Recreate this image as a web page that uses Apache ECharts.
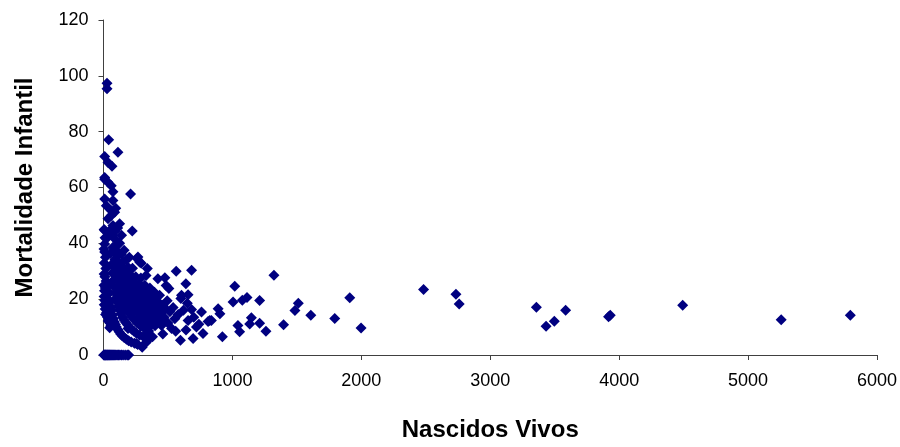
<!DOCTYPE html>
<html>
<head>
<meta charset="utf-8">
<script src="https://cdn.jsdelivr.net/npm/echarts@6.0.0/dist/echarts.min.js"></script>
<style>
html, body { margin: 0; padding: 0; background: #fff; }
#main { width: 900px; height: 447px; }
</style>
</head>
<body>
<div id="main"></div>
<script>
// municipios com mortalidade zero
var zeroNascidos = [2, 6, 10, 14, 18, 22, 27, 31, 36, 41, 46, 51, 57, 63, 69, 75, 82, 89, 97, 106, 116, 127, 139, 152, 168, 184, 195];

// nascidos vivos x mortalidade infantil (demais municipios)
var nascidos = [
	27, 27, 40, 112, 9, 35, 66, 9, 9, 35, 60, 73, 210, 9, 73, 22, 60, 87, 35, 125, 73, 223, 9, 48, 22, 87, 9, 73, 9, 112,
	267, 293, 190, 280, 190, 422, 215, 486, 280, 293, 435, 460, 447, 370, 357, 254, 190,
	5, 12, 4, 15, 6, 18, 5, 11, 20, 4, 14, 8, 25, 5, 17, 10, 28, 6, 20, 13, 33, 24, 38, 30, 44, 36, 50, 16, 58, 48,
	40, 45, 52, 58, 63, 70, 77, 85, 92, 100, 110, 121, 133, 145, 160, 178, 195, 215, 240, 265,
	45, 55, 62, 68, 75, 82, 90, 98, 105, 115, 124, 135, 148, 160, 172, 186, 200, 218, 236, 255, 280, 310,
	60, 70, 80, 88, 96, 104, 113, 122, 130, 140, 152, 165, 178, 192, 206, 222, 240, 262, 290, 320, 350,
	78, 90, 102, 112, 121, 130, 142, 155, 168, 180, 195, 210, 228, 246, 265, 288, 312, 340, 372,
	95, 110, 125, 138, 150, 162, 175, 190, 205, 222, 240, 260, 282, 305, 330, 360, 395,
	140, 160, 176, 192, 210, 230, 252, 275, 300, 325, 352, 385, 420,
	200, 225, 250, 275, 300, 330, 362, 395, 430,
	260, 290, 320, 350, 380, 410, 445, 480, 308, 330, 360, 395, 340,
	476, 507, 564, 683, 639, 656, 605, 600, 494, 437, 683, 760, 889, 1005, 1018, 515, 553, 656, 824, 721,
	772, 597, 695, 922, 528, 450, 1043, 837, 811, 903,
	380, 340, 400, 430, 470, 500, 540, 580, 620, 560, 640, 700, 740, 650, 460, 380, 330, 300,
	1077, 1113, 1056, 1147, 1134, 1211, 1211, 1260, 1322, 1397, 1485, 1511, 1608, 1794, 1910, 1998,
	2483, 2734, 2759, 3358, 3433, 3497, 3585, 3918, 3931, 4493, 5257, 5793
];
var mortalidade = [
	97.3, 95.4, 77.1, 72.6, 71.1, 69.0, 67.6, 63.6, 63.0, 61.9, 60.6, 58.5, 57.7, 55.9, 55.3, 53.5, 51.7, 51.1, 48.8, 47.0, 46.4, 44.4, 44.6, 43.4, 41.6, 41.6, 39.8, 38.6, 36.9, 36.9,
	35.1, 32.9, 31.1, 33.3, 30.3, 27.3, 27.3, 24.9, 23.8, 20.2, 21.4, 17.8, 14.8, 13.0, 5.9, 4.1, 9.5,
	45, 42, 38, 35, 33, 31, 29, 28, 26.5, 25, 24, 23, 22.5, 21, 20.5, 19.5, 19, 18, 17.5, 16.5, 16, 15.2, 14.2, 13.6, 12.8, 12.2, 11.5, 14.5, 10.6, 9.8,
	25.0, 22.2, 19.2, 17.2, 15.9, 14.3, 13.0, 11.8, 10.9, 10.0, 9.1, 8.3, 7.5, 6.9, 6.3, 5.6, 5.1, 4.7, 4.2, 3.8,
	44.4, 36.4, 32.3, 29.4, 26.7, 24.4, 22.2, 20.4, 19.0, 17.4, 16.1, 14.8, 13.5, 12.5, 11.6, 10.8, 10.0, 9.2, 8.5, 7.8, 7.1, 6.5,
	50.0, 42.9, 37.5, 34.1, 31.3, 28.8, 26.5, 24.6, 23.1, 21.4, 19.7, 18.2, 16.9, 15.6, 14.6, 13.5, 12.5, 11.5, 10.3, 9.4, 8.6,
	51.3, 44.4, 39.2, 35.7, 33.1, 30.8, 28.2, 25.8, 23.8, 22.2, 20.5, 19.0, 17.5, 16.3, 15.1, 13.9, 12.8, 11.8, 10.8,
	52.6, 45.5, 40.0, 36.2, 33.3, 30.9, 28.6, 26.3, 24.4, 22.5, 20.8, 19.2, 17.7, 16.4, 15.2, 13.9, 12.7,
	42.9, 37.5, 34.1, 31.3, 28.6, 26.1, 23.8, 21.8, 20.0, 18.5, 17.0, 15.6, 14.3,
	35.0, 31.1, 28.0, 25.5, 23.3, 21.2, 19.3, 17.7, 16.3,
	34.6, 27.6, 25.0, 22.9, 21.1, 19.5, 18.0, 16.7, 23.8, 28.5, 24.0, 22.5, 31.0,
	27.7, 23.8, 30.0, 30.4, 25.5, 21.6, 21.4, 20.2, 19.4, 17.8, 16.3, 15.4, 16.6, 19.0, 24.6, 15.5, 13.0, 12.4, 12.4, 10.0,
	7.7, 5.3, 5.9, 6.5, 9.5, 10.6, 10.6, 12.4, 12.0, 14.8,
	15.0, 8.0, 10.5, 12.0, 13.5, 11.5, 17.0, 14.5, 16.0, 8.5, 9.0, 13.5, 11.0, 18.5, 7.5, 6.5, 4.5, 2.8,
	19.6, 20.6, 8.3, 13.3, 11.1, 19.5, 11.4, 8.5, 28.6, 10.8, 15.9, 18.5, 14.2, 13.1, 20.5, 9.7,
	23.5, 21.8, 18.3, 17.1, 10.3, 12.1, 16.0, 13.7, 14.2, 17.8, 12.6, 14.2
];

var pontos = [];
for (var i = 0; i < zeroNascidos.length; i++) {
	pontos.push([zeroNascidos[i], 0]);
}
for (var j = 0; j < nascidos.length; j++) {
	pontos.push([nascidos[j], mortalidade[j]]);
}

var myChart = echarts.init(document.getElementById('main'));
var eixoCor = '#404040';
var option = {
	animation : false,
	backgroundColor : '#ffffff',
	grid : {
		left : 103.5,
		right : 21,
		top : 20,
		bottom : 90.5
	},
	xAxis : {
		type : 'value',
		min : 0,
		max : 6000,
		interval : 1000,
		name : 'Nascidos Vivos',
		nameLocation : 'middle',
		nameGap : 63,
		nameTextStyle : {
			color : '#000',
			fontFamily : 'Liberation Sans, Arial, sans-serif',
			fontWeight : 'bold',
			fontSize : 24
		},
		axisLine : { show : true, lineStyle : { color : eixoCor, width : 1 } },
		axisTick : { show : true, length : 5, lineStyle : { color : eixoCor } },
		axisLabel : {
			color : '#000',
			fontFamily : 'Liberation Sans, Arial, sans-serif',
			fontSize : 18,
			margin : 17,
			formatter : function (v) { return String(v); }
		},
		splitLine : { show : false }
	},
	yAxis : {
		type : 'value',
		min : 0,
		max : 120,
		interval : 20,
		name : 'Mortalidade Infantil',
		nameLocation : 'middle',
		nameGap : 66,
		nameTextStyle : {
			color : '#000',
			fontFamily : 'Liberation Sans, Arial, sans-serif',
			fontWeight : 'bold',
			fontSize : 24
		},
		axisLine : { show : true, lineStyle : { color : eixoCor, width : 1 } },
		axisTick : { show : true, length : 5, lineStyle : { color : eixoCor } },
		axisLabel : {
			color : '#000',
			fontFamily : 'Liberation Sans, Arial, sans-serif',
			fontSize : 18,
			margin : 15
		},
		splitLine : { show : false }
	},
	series : [ {
		name : 'Mortalidade Infantil',
		type : 'scatter',
		symbol : 'diamond',
		symbolSize : 11,
		clip : false,
		itemStyle : { color : '#000080', opacity : 1 },
		data : pontos
	} ]
};
myChart.setOption(option);
</script>
</body>
</html>
